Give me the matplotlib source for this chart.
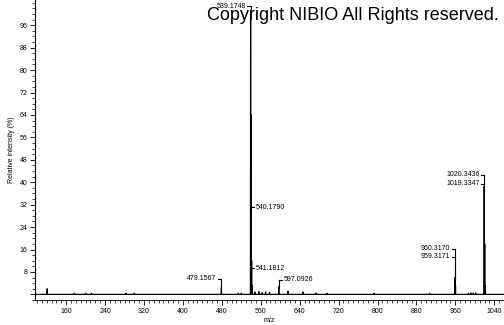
import matplotlib
matplotlib.use('Agg')
from matplotlib import pyplot as plt
from matplotlib.ticker import MultipleLocator

# peak list (m/z, relative intensity %)
peak_mz = [121, 177, 200, 212, 283, 300, 479.16, 514, 520, 539.17, 540.18,
           541.18, 542.2, 548, 556, 563, 570, 578, 597.09, 616, 647, 673, 696,
           793, 907, 959.32, 960.32, 987, 992, 997, 1002, 1019.33, 1020.34, 1021.3]
peak_int = [2.0, 0.4, 0.4, 0.4, 0.4, 0.4, 2.6, 0.4, 0.4, 100, 64,
            12, 3.2, 0.8, 1.0, 0.6, 0.9, 0.6, 2.7, 1.1, 0.8, 0.5, 0.4,
            0.4, 0.4, 6.0, 3.0, 0.4, 0.5, 0.4, 0.5, 38.5, 18, 3.0]

# labels: text, m/z of the line, height of the label, side of the line
label_txt = ['539.1748', '540.1790', '541.1812', '479.1567', '597.0926',
             '960.3170', '959.3171', '1020.3436', '1019.3347']
label_mz = [539.17, 539.6, 539.6, 479.16, 597.09, 959.32, 959.32, 1019.33, 1019.33]
label_y = [102.8, 31, 9.4, 5.5, 5.2, 16.3, 13.4, 42.6, 39.5]
label_side = ['left', 'right', 'right', 'left', 'right', 'left', 'left', 'left', 'left']

xmin, xmax = 96, 1060

plt.rcParams['font.family'] = ['Liberation Sans', 'DejaVu Sans']

fig = plt.figure(figsize=(5.04, 3.25), dpi=100)
ax = fig.add_axes([35 / 504, 25 / 325, 1 - 35 / 504, 1 - 25 / 325])

# build a stick profile trace along the baseline
tx, ty = [xmin + 1], [0]
for m, h in zip(peak_mz, peak_int):
    tx += [m - 0.35, m, m + 0.35]
    ty += [0, h, 0]
tx.append(xmax)
ty.append(0)
ax.plot(tx, ty, color='black', lw=0.9)

# label connectors
for t, m, y, s in zip(label_txt, label_mz, label_y, label_side):
    top = max([h for mm, h in zip(peak_mz, peak_int) if abs(mm - m) < 0.8])
    if y > top:
        ax.plot([m, m], [top, y], color='black', lw=0.8)
    if s == 'left':
        ax.plot([m - 7, m], [y, y], color='black', lw=0.8)
        ax.text(m - 10, y, t, ha='right', va='center', fontsize=5)
    else:
        ax.plot([m, m + 7], [y, y], color='black', lw=0.8)
        ax.text(m + 10, y, t, ha='left', va='center', fontsize=5)

ax.set_xlim(xmin, xmax)
ax.set_ylim(-2, 105)
ax.spines['top'].set_visible(False)
ax.spines['right'].set_visible(False)
ax.spines['left'].set_linewidth(0.8)
ax.spines['bottom'].set_linewidth(0.6)

ax.xaxis.set_minor_locator(MultipleLocator(10))
ax.set_xticks(range(160, 1041, 80))
ax.set_yticks(range(0, 97, 8))
ax.set_yticklabels([''] + [str(v) for v in range(8, 97, 8)])
ax.yaxis.set_minor_locator(MultipleLocator(2))
ax.tick_params(axis='both', which='major', labelsize=5, length=3.5, width=0.6, pad=2)
ax.tick_params(axis='both', which='minor', length=2, width=0.5)

ax.set_xlabel('m/z', fontsize=5, labelpad=2)
ax.set_ylabel('Relative intensity (%)', fontsize=5, labelpad=3)

fig.text(207 / 504, 1 - 20 / 325, 'Copyright NIBIO All Rights reserved.',
         fontsize=13, ha='left', va='baseline', color='black')

fig.savefig('out.png', dpi=100)
